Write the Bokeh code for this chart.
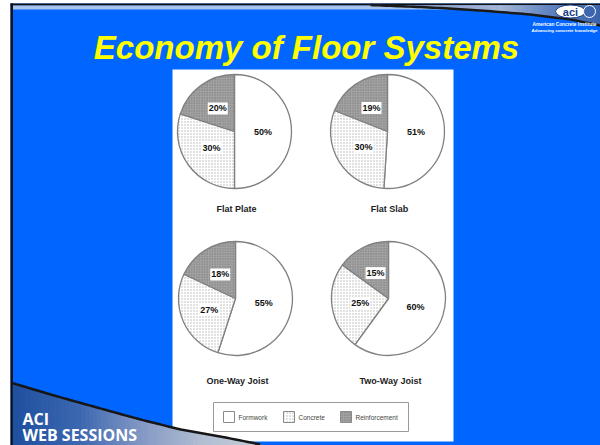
import numpy as np
from bokeh.plotting import figure
from bokeh.models import Range1d
from bokeh.embed import file_html
from bokeh.resources import INLINE
from bokeh.core.properties import value

# ---------------- data ----------------
title_text = "Economy of Floor Systems"
systems = ["Flat Plate", "Flat Slab", "One-Way Joist", "Two-Way Joist"]
formwork = [50, 51, 55, 60]
concrete = [30, 30, 27, 25]
reinforcement = [20, 19, 18, 15]
components = ["Formwork", "Concrete", "Reinforcement"]
footer_lines = ["ACI", "WEB SESSIONS"]
logo_lines = ["American Concrete Institute", "Advancing concrete knowledge"]

# ---------------- layout helpers (screen px -> data) ----------------
W, H = 600, 445
def X(px): return px
def Y(py): return H - py

def hex2rgb(h):
    h = h.lstrip("#")
    return np.array([int(h[i:i + 2], 16) for i in (0, 2, 4)], dtype=float)

def interp_color(x, stops):
    xs = [s[0] for s in stops]
    cols = np.array([hex2rgb(s[1]) for s in stops])
    rgb = [np.interp(x, xs, cols[:, k]) for k in range(3)]
    return "#%02x%02x%02x" % tuple(int(round(v)) for v in rgb)

p = figure(width=W, height=H, x_range=Range1d(0, W), y_range=Range1d(0, H),
           output_backend="svg", toolbar_location=None, min_border=0,
           x_axis_location=None, y_axis_location=None,
           outline_line_color=None, background_fill_color="white",
           border_fill_color="white")
p.grid.visible = False

# slide background
p.quad(left=[X(10)], right=[X(600)], top=[Y(3)], bottom=[Y(446)],
       fill_color="#0066FF", line_color=None)
p.quad(left=[X(10)], right=[X(12.5)], top=[Y(3)], bottom=[Y(446)],
       fill_color="#111111", line_color=None)
p.quad(left=[X(10)], right=[X(600)], top=[Y(3)], bottom=[Y(5)],
       fill_color="#111111", line_color=None)
p.quad(left=[X(12.5)], right=[X(600)], top=[Y(5)], bottom=[Y(9)],
       fill_color="#a9c3ea", line_color=None)

# top-right swoosh
tc_x = [370, 430, 480, 530, 570, 600]
tc_y = [4.5, 7, 10, 14, 19, 25]
top_stops = [(370, "#3a6fd0"), (430, "#8ea4cc"), (500, "#a3b5d6"),
             (550, "#5f83bf"), (600, "#3a62aa")]
xs_l, ys_l, cs = [], [], []
step = 4
for x0 in np.arange(370, 600, step):
    x1 = x0 + step
    xs_l.append([X(x0), X(x1), X(x1), X(x0)])
    ys_l.append([Y(5), Y(5), Y(np.interp(x1, tc_x, tc_y)), Y(np.interp(x0, tc_x, tc_y))])
    cs.append(interp_color(x0 + step / 2, top_stops))
p.patches(xs_l, ys_l, fill_color=cs, line_color=cs, line_width=0.6)
cx = np.linspace(370, 600, 60)
p.line(X(cx), Y(np.interp(cx, tc_x, tc_y)), line_color="#1a1a1a", line_width=2.5)

# ACI logo
p.ellipse(x=[X(570)], y=[Y(11)], width=30, height=13, fill_color="white",
          line_color="#1b3f8a", line_width=1)
p.text(x=[X(570)], y=[Y(11)], text=["aci"], text_font=value("Liberation Sans"),
       text_font_style="bold", text_font_size="11px", text_color="#1b3f8a",
       text_align="center", text_baseline="middle")
p.circle(x=[X(589)], y=[Y(11)], radius=6, fill_color="#3d66b0",
         line_color="white", line_width=1)
p.text(x=[X(564), X(564)], y=[Y(24), Y(29.5)], text=logo_lines,
       text_font=value("Liberation Sans"), text_font_size=["4.8px", "4.4px"],
       text_font_style="bold", text_color="white", text_align="center",
       text_baseline="middle")

# title
p.text(x=[X(306)], y=[Y(47)], text=[title_text], text_font=value("Liberation Sans"),
       text_font_style="bold italic", text_font_size="33px", text_color="#FFFF00",
       text_align="center", text_baseline="alphabetic")

# white panel
p.quad(left=[X(172)], right=[X(453)], top=[Y(69)], bottom=[Y(441)],
       fill_color="white", line_color=None)

# pies
centers = [(234, 131), (387, 131), (235, 298), (388, 298)]
R = 57
fills = ["white", "white", "#a4a4a4"]
hatches = [None, "dot", "dot"]
hcolors = ["white", "#b4b4b4", "#707070"]
for i, name in enumerate(systems):
    vals = [formwork[i], concrete[i], reinforcement[i]]
    total = float(sum(vals))
    cxp, cyp = centers[i]
    cum = 0.0
    for k, v in enumerate(vals):
        a0 = np.pi / 2 - 2 * np.pi * cum / total
        a1 = np.pi / 2 - 2 * np.pi * (cum + v) / total
        kw = dict(fill_color=fills[k], line_color="#808080", line_width=1.3)
        if hatches[k]:
            kw.update(hatch_pattern=hatches[k], hatch_color=hcolors[k],
                      hatch_scale=3.0 if k == 1 else 2.6, hatch_weight=1)
        p.wedge(x=[X(cxp)], y=[Y(cyp)], radius=R, start_angle=[a0],
                end_angle=[a1], direction="clock", **kw)
        mid = (a0 + a1) / 2
        lx = X(cxp) + 0.5 * R * np.cos(mid)
        ly = Y(cyp) + 0.5 * R * np.sin(mid)
        p.text(x=[lx], y=[ly], text=["%d%%" % v], text_font=value("Liberation Sans"),
               text_font_style="bold", text_font_size="9px", text_color="#111111",
               text_align="center", text_baseline="middle",
               background_fill_color="white", padding=1)
        cum += v
    ty = 208 if cyp < 200 else 380
    p.text(x=[X(cxp + 2)], y=[Y(ty)], text=[name], text_font=value("Liberation Sans"),
           text_font_style="bold", text_font_size="9px", text_color="#222222",
           text_align="center", text_baseline="middle")

# legend
p.quad(left=[X(213)], right=[X(408)], top=[Y(402)], bottom=[Y(431)],
       fill_color="white", line_color="#9a9a9a", line_width=1)
sq_x = [223, 283, 340]
for k, comp in enumerate(components):
    kw = dict(fill_color=fills[k], line_color="#8a8a8a", line_width=1)
    if hatches[k]:
        kw.update(hatch_pattern=hatches[k], hatch_color=hcolors[k],
                  hatch_scale=3.0 if k == 1 else 2.6, hatch_weight=1)
    p.quad(left=[X(sq_x[k])], right=[X(sq_x[k] + 11)], top=[Y(411)],
           bottom=[Y(422)], **kw)
    p.text(x=[X(sq_x[k] + 15)], y=[Y(416.5)], text=[comp],
           text_font=value("Liberation Sans"), text_font_size="6.5px",
           text_color="#444444", text_align="left", text_baseline="middle")

# bottom-left swoosh
bc_x = [10, 50, 100, 140, 180, 220, 260]
bc_y = [382, 394, 408, 419, 429, 436, 444]
bot_stops = [(10, "#1d4f9f"), (80, "#3d68b0"), (140, "#8297c4"),
             (200, "#b1bdd2"), (260, "#c5ccd8")]
xs_l, ys_l, cs = [], [], []
for x0 in np.arange(12.5, 260, step):
    x1 = x0 + step
    xs_l.append([X(x0), X(x1), X(x1), X(x0)])
    ys_l.append([Y(np.interp(x0, bc_x, bc_y)), Y(np.interp(x1, bc_x, bc_y)), Y(446), Y(446)])
    cs.append(interp_color(x0 + step / 2, bot_stops))
p.patches(xs_l, ys_l, fill_color=cs, line_color=cs, line_width=0.6)
bx = np.linspace(12.5, 260, 60)
p.line(X(bx), Y(np.interp(bx, bc_x, bc_y)), line_color="#161616", line_width=2.5)

p.text(x=[X(22), X(22)], y=[Y(418), Y(434)], text=footer_lines,
       text_font=value("Open Sans"), text_font_style="bold", text_font_size="16px",
       text_color="white", text_align="left", text_baseline="alphabetic")

open("out.html", "w").write(file_html(p, INLINE))
